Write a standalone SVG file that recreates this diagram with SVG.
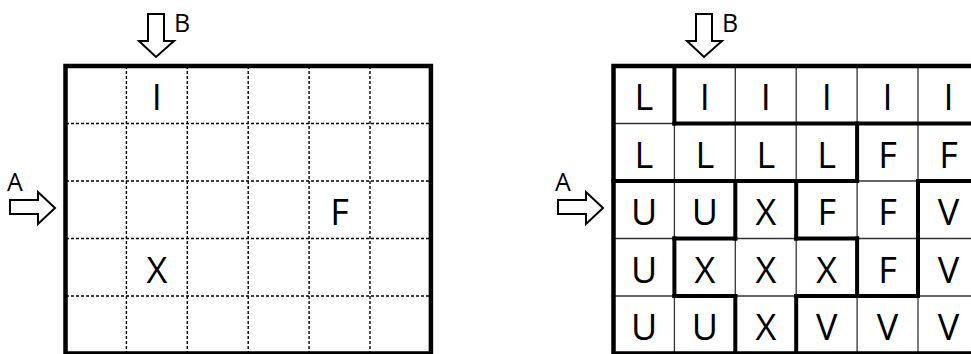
<svg xmlns="http://www.w3.org/2000/svg" width="971" height="354" viewBox="0 0 971 354">
  <style>
    .cell { font-family: "Open Sans", "Liberation Sans", sans-serif; font-size: 36px; fill: #000; text-anchor: middle; }
    .lbl { font-family: "Open Sans", "Liberation Sans", sans-serif; font-size: 25px; fill: #000; }
    .dash { stroke: #000; stroke-width: 1.4; stroke-dasharray: 3 2; fill: none; }
    .thin { stroke: #333; stroke-width: 1.3; fill: none; }
    .thick { stroke: #000; stroke-width: 4; fill: none; stroke-linecap: square; }
    .frame { stroke: #000; stroke-width: 4.5; fill: none; }
    .arrow { stroke: #000; stroke-width: 2; fill: #fff; stroke-linejoin: miter; }
  </style>
  <rect width="971" height="354" fill="#fff"/>

  <!-- Empty puzzle grid -->
  <g id="puzzle">
    <path class="dash" d="M126.4 66V354M187.3 66V354M248.2 66V354M309.1 66V354M370 66V354"/>
    <path class="dash" d="M66 123.5H431M66 181H431M66 238.5H431M66 296H431"/>
    <rect class="frame" x="65.5" y="66" width="365.4" height="287.5"/>
    <text class="cell" x="156.9" y="110.3">I</text>
    <text class="cell" x="339.5" y="225.3">F</text>
    <text class="cell" x="156.9" y="282.8">X</text>
  </g>

  <!-- Entry arrows of the empty grid -->
  <g id="arrows-left">
    <polygon class="arrow" points="148,14 164,14 164,41 174,41 156,57 139,41 148,41"/>
    <text class="lbl" x="174" y="32">B</text>
    <polygon class="arrow" points="10,200 38,200 38,192 55,208 38,224 38,214 10,214"/>
    <text class="lbl" x="7" y="191">A</text>
  </g>

  <!-- Solved grid -->
  <g id="solution">
    <path class="thin" d="M674.4 66V354M735.3 66V354M796.2 66V354M857.1 66V354M918 66V354"/>
    <path class="thin" d="M613.5 123.5H971M613.5 181H971M613.5 238.5H971M613.5 296H971"/>
    <!-- piece boundaries -->
    <path class="thick" d="M674.4 123.5H978.9M613.5 181H857.1M918 181H978.9M674.4 238.5H735.3M796.2 238.5H857.1M674.4 296H735.3M796.2 296H918"/>
    <path class="thick" d="M674.4 66V123.5M674.4 238.5V296M735.3 181V238.5M735.3 296V353.5M796.2 181V238.5M796.2 296V353.5M857.1 123.5V181M857.1 238.5V296M918 181V296"/>
    <rect class="frame" x="613.5" y="66" width="365.4" height="287.5"/>

    <g id="row0">
      <text class="cell" x="644" y="110.3">L</text>
      <text class="cell" x="704.9" y="110.3">I</text>
      <text class="cell" x="765.8" y="110.3">I</text>
      <text class="cell" x="826.7" y="110.3">I</text>
      <text class="cell" x="887.6" y="110.3">I</text>
      <text class="cell" x="948.5" y="110.3">I</text>
    </g>
    <g id="row1">
      <text class="cell" x="644" y="167.8">L</text>
      <text class="cell" x="704.9" y="167.8">L</text>
      <text class="cell" x="765.8" y="167.8">L</text>
      <text class="cell" x="826.7" y="167.8">L</text>
      <text class="cell" x="887.6" y="167.8">F</text>
      <text class="cell" x="948.5" y="167.8">F</text>
    </g>
    <g id="row2">
      <text class="cell" x="644" y="225.3">U</text>
      <text class="cell" x="704.9" y="225.3">U</text>
      <text class="cell" x="765.8" y="225.3">X</text>
      <text class="cell" x="826.7" y="225.3">F</text>
      <text class="cell" x="887.6" y="225.3">F</text>
      <text class="cell" x="948.5" y="225.3">V</text>
    </g>
    <g id="row3">
      <text class="cell" x="644" y="282.8">U</text>
      <text class="cell" x="704.9" y="282.8">X</text>
      <text class="cell" x="765.8" y="282.8">X</text>
      <text class="cell" x="826.7" y="282.8">X</text>
      <text class="cell" x="887.6" y="282.8">F</text>
      <text class="cell" x="948.5" y="282.8">V</text>
    </g>
    <g id="row4">
      <text class="cell" x="644" y="340.3">U</text>
      <text class="cell" x="704.9" y="340.3">U</text>
      <text class="cell" x="765.8" y="340.3">X</text>
      <text class="cell" x="826.7" y="340.3">V</text>
      <text class="cell" x="887.6" y="340.3">V</text>
      <text class="cell" x="948.5" y="340.3">V</text>
    </g>
  </g>

  <!-- Entry arrows of the solved grid -->
  <g id="arrows-right">
    <polygon class="arrow" points="696,14 712,14 712,41 722,41 704,57 687,41 696,41"/>
    <text class="lbl" x="722" y="32">B</text>
    <polygon class="arrow" points="558,200 586,200 586,192 603,208 586,224 586,214 558,214"/>
    <text class="lbl" x="555" y="191">A</text>
  </g>
</svg>
